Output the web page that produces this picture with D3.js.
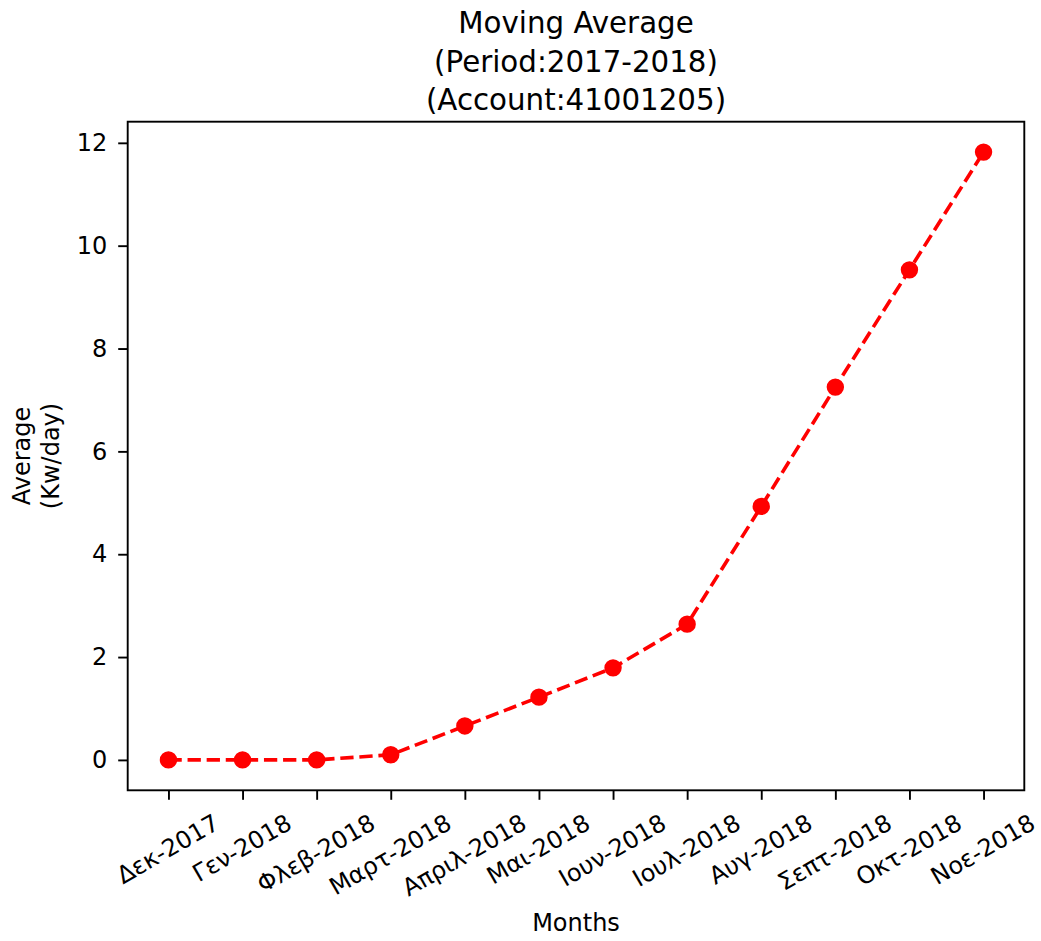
<!DOCTYPE html>
<html>
<head>
<meta charset="utf-8">
<script src="https://cdn.jsdelivr.net/npm/d3@7"></script>
<style>
  html, body { margin: 0; padding: 0; background: #fff; }
  svg { display: block; font-family: "DejaVu Sans", sans-serif; }
</style>
</head>
<body>
<svg id="chart" width="1041" height="941"></svg>
<script>
// Monthly moving average of consumption
const months = ["Δεκ-2017", "Γεν-2018", "Φλεβ-2018", "Μαρτ-2018", "Απριλ-2018", "Μαι-2018",
                "Ιουν-2018", "Ιουλ-2018", "Αυγ-2018", "Σεπτ-2018", "Οκτ-2018", "Νοε-2018"];
const averages = [0, 0, 0, 0.10, 0.66, 1.22, 1.79, 2.64, 4.93, 7.25, 9.53, 11.82];
const yTicks = [0, 2, 4, 6, 8, 10, 12];
const titleLines = ["Moving Average", "(Period:2017-2018)", "(Account:41001205)"];
const yLabelLines = ["Average", "(Kw/day)"];
const xLabel = "Months";

const svg = d3.select("#chart");
const box = { left: 127.7, right: 1024.3, top: 121.7, bottom: 790.3 };
const fs = 24;          // tick / label font size
const tickLen = 9.5;

// matplotlib-style 5% margins around the data
const n = months.length;
const xPad = (n - 1) * 0.05;
const x = d3.scaleLinear().domain([-xPad, n - 1 + xPad]).range([box.left, box.right]);
const yMin = d3.min(averages), yMax = d3.max(averages);
const yPad = (yMax - yMin) * 0.05;
const y = d3.scaleLinear().domain([yMin - yPad, yMax + yPad]).range([box.bottom, box.top]);

// y axis
const yAxis = svg.append("g")
  .attr("transform", `translate(${box.left},0)`)
  .call(d3.axisLeft(y).tickValues(yTicks).tickFormat(d3.format("d")).tickSize(tickLen).tickPadding(11));
yAxis.select(".domain").remove();
yAxis.selectAll(".tick line").attr("stroke", "#000").attr("stroke-width", 1.9);
yAxis.selectAll(".tick text").attr("font-size", fs).attr("fill", "#000")
  .attr("font-family", "DejaVu Sans, sans-serif");

// x axis
const xAxis = svg.append("g")
  .attr("transform", `translate(0,${box.bottom})`)
  .call(d3.axisBottom(x).tickValues(d3.range(n)).tickFormat(i => months[i]).tickSize(tickLen));
xAxis.select(".domain").remove();
xAxis.selectAll(".tick line").attr("stroke", "#000").attr("stroke-width", 1.9);
const labelTop = tickLen + 9;
const boxH = fs * 1.16;
const ang = 30 * Math.PI / 180;
xAxis.selectAll(".tick text")
  .attr("font-size", fs).attr("fill", "#000")
  .attr("font-family", "DejaVu Sans, sans-serif")
  .attr("text-anchor", "middle")
  .attr("dy", null)
  .attr("dominant-baseline", "central")
  .each(function () {
    const w = this.getComputedTextLength();
    const H = w * Math.sin(ang) + boxH * Math.cos(ang);
    d3.select(this).attr("y", 0)
      .attr("transform", `translate(-1,${labelTop + H / 2}) rotate(-30)`);
  });

// data line and markers
const line = d3.line().x((d, i) => x(i)).y(d => y(d));
svg.append("path")
  .datum(averages)
  .attr("d", line)
  .attr("fill", "none")
  .attr("stroke", "#ff0000")
  .attr("stroke-width", 3.6)
  .attr("stroke-dasharray", "13.3,5.8");

svg.append("g").selectAll("circle")
  .data(averages)
  .join("circle")
  .attr("cx", (d, i) => x(i))
  .attr("cy", d => y(d))
  .attr("r", 7.5)
  .attr("fill", "#ff0000")
  .attr("stroke", "#ff0000")
  .attr("stroke-width", 2.4);

// frame
svg.append("rect")
  .attr("x", box.left).attr("y", box.top)
  .attr("width", box.right - box.left).attr("height", box.bottom - box.top)
  .attr("fill", "none").attr("stroke", "#000").attr("stroke-width", 1.9);

// title
const cx = (box.left + box.right) / 2;
svg.append("g").selectAll("text")
  .data(titleLines)
  .join("text")
  .attr("x", cx)
  .attr("y", (d, i) => 33 + i * 38.7)
  .attr("text-anchor", "middle")
  .attr("font-size", 29.3)
  .attr("fill", "#000")
  .text(d => d);

// axis labels
svg.append("text")
  .attr("x", cx).attr("y", 931)
  .attr("text-anchor", "middle")
  .attr("font-size", fs).attr("fill", "#000")
  .text(xLabel);

const cy = (box.top + box.bottom) / 2;
svg.append("g")
  .attr("transform", `translate(0,${cy}) rotate(-90)`)
  .selectAll("text")
  .data(yLabelLines)
  .join("text")
  .attr("x", 0)
  .attr("y", (d, i) => 30 + i * 28.5)
  .attr("text-anchor", "middle")
  .attr("font-size", fs).attr("fill", "#000")
  .text(d => d);
</script>
</body>
</html>
